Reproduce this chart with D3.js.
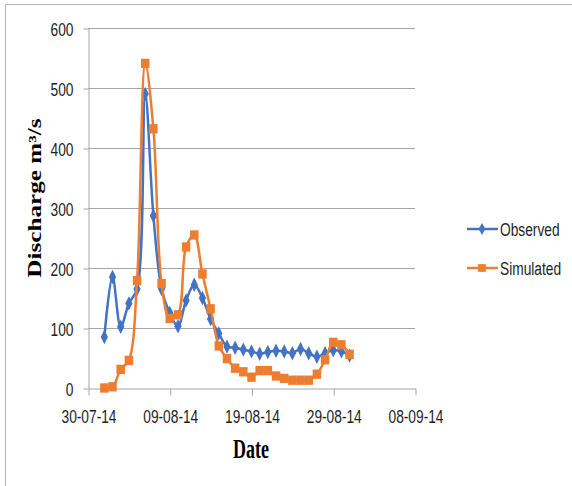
<!DOCTYPE html>
<html>
<head>
<meta charset="utf-8">
<script src="https://cdn.jsdelivr.net/npm/d3@7"></script>
<style>
  html, body { margin: 0; padding: 0; background: #fff; }
  svg { display: block; }
  .tick-label { font-family: "Liberation Sans Narrow", "Liberation Sans", Arial, sans-serif; font-size: 16px; fill: #1e1e1e; }
  .title { font-family: "Liberation Serif", "Times New Roman", serif; font-weight: bold; fill: #000; }
</style>
</head>
<body>
<script>
// Daily discharge, 1–31 Aug 2014
const dates = [
  "2014-08-01","2014-08-02","2014-08-03","2014-08-04","2014-08-05","2014-08-06",
  "2014-08-07","2014-08-08","2014-08-09","2014-08-10","2014-08-11","2014-08-12",
  "2014-08-13","2014-08-14","2014-08-15","2014-08-16","2014-08-17","2014-08-18",
  "2014-08-19","2014-08-20","2014-08-21","2014-08-22","2014-08-23","2014-08-24",
  "2014-08-25","2014-08-26","2014-08-27","2014-08-28","2014-08-29","2014-08-30",
  "2014-08-31"
];
const observed = [
  85, 185, 102, 141, 165, 490, 287, 165, 125, 103, 146, 172, 150, 115, 91, 69,
  67, 64, 61, 57, 60, 62, 61, 58, 65, 58, 52, 58, 63, 61, 54
];
const simulated = [
  0, 2, 31, 46, 179, 541, 432, 174, 116, 122, 235, 255, 190, 132, 70, 49,
  33, 27, 18, 29, 29, 20, 16, 13, 13, 13, 23, 47, 76, 72, 56
];
const xTicks = ["2014-07-30","2014-08-09","2014-08-19","2014-08-29","2014-09-08"];
const yTicks = [0, 100, 200, 300, 400, 500, 600];
const seriesNames = ["Observed", "Simulated"];

const W = 572, H = 486;
const blue = "#4472C4", orange = "#ED7D31", gridColor = "#a6a6a6";
const parse = d3.timeParse("%Y-%m-%d");
const fmt = d3.timeFormat("%d-%m-%y");
// condensed, slightly tall label text
const labelScale = "scale(0.86,1.2)";

const svg = d3.select("body").append("svg").attr("width", W).attr("height", H);

// outer frame
svg.append("path")
  .attr("d", `M5.5,${H + 2} V4.5 H${W + 2}`)
  .attr("fill", "none").attr("stroke", "#b4b4b4").attr("stroke-width", 1);

const x = d3.scaleTime()
  .domain([parse(xTicks[0]), parse(xTicks[xTicks.length - 1])])
  .range([88, 415]);
const y = d3.scaleLinear().domain([0, 600]).range([388, 28]);

// horizontal gridlines
svg.append("g").selectAll("line")
  .data(yTicks.filter(v => v > 0))
  .join("line")
  .attr("x1", 88).attr("x2", 415)
  .attr("y1", d => Math.round(y(d)) + 0.5).attr("y2", d => Math.round(y(d)) + 0.5)
  .attr("stroke", gridColor).attr("stroke-width", 1);

// y axis
const yAxis = svg.append("g")
  .attr("transform", "translate(88.5,0.5)")
  .call(d3.axisLeft(y).tickValues(yTicks).tickSize(5).tickSizeOuter(0).tickFormat(d3.format("d")));
yAxis.attr("font-size", null).attr("font-family", null);
yAxis.select(".domain").attr("stroke", gridColor);
yAxis.selectAll(".tick line").attr("stroke", gridColor);
yAxis.selectAll(".tick text")
  .attr("class", "tick-label")
  .attr("x", null).attr("dy", null)
  .attr("transform", `translate(-15,6.5) ${labelScale}`);

// x axis
const xAxis = svg.append("g")
  .attr("transform", "translate(0.5,388.5)")
  .call(d3.axisBottom(x).tickValues(xTicks.map(parse)).tickSize(7).tickSizeOuter(0).tickFormat(fmt));
xAxis.attr("font-size", null).attr("font-family", null);
xAxis.select(".domain").attr("stroke", gridColor);
xAxis.selectAll(".tick line").attr("stroke", gridColor);
xAxis.selectAll(".tick text")
  .attr("class", "tick-label")
  .attr("y", null).attr("dy", null)
  .attr("transform", `translate(0,34) ${labelScale}`);

// axis titles
svg.append("text").attr("class", "title")
  .attr("text-anchor", "middle")
  .attr("font-size", 18)
  .attr("transform", "translate(251,458) scale(1,1.48)")
  .text("Date");
svg.append("text").attr("class", "title")
  .attr("text-anchor", "middle")
  .attr("font-size", 18)
  .attr("transform", "translate(41,198) scale(1,1.4) rotate(-90)")
  .text("Discharge m³/s");

// series
const rows = dates.map((d, i) => ({ date: parse(d), obs: observed[i], sim: simulated[i] }));
const line = key => d3.line()
  .x(d => x(d.date)).y(d => y(d[key]))
  .curve(d3.curveCatmullRom.alpha(0.5));

svg.append("path").datum(rows)
  .attr("d", line("obs")).attr("fill", "none")
  .attr("stroke", blue).attr("stroke-width", 2.5).attr("stroke-linejoin", "round");
svg.append("g").selectAll("path").data(rows).join("path")
  .attr("d", d3.symbol(d3.symbolDiamond, 45))
  .attr("transform", d => `translate(${x(d.date)},${y(d.obs)}) scale(1,1.15)`)
  .attr("fill", blue);

svg.append("path").datum(rows)
  .attr("d", line("sim")).attr("fill", "none")
  .attr("stroke", orange).attr("stroke-width", 2.5).attr("stroke-linejoin", "round");
svg.append("g").selectAll("path").data(rows).join("path")
  .attr("d", d3.symbol(d3.symbolSquare, 72))
  .attr("transform", d => `translate(${x(d.date)},${y(d.sim)}) scale(1,1.1)`)
  .attr("fill", orange);

// legend
const legend = svg.append("g");
const legendItems = [
  { name: seriesNames[0], color: blue, sym: d3.symbolDiamond, size: 40, y: 229 },
  { name: seriesNames[1], color: orange, sym: d3.symbolSquare, size: 60, y: 268 }
];
legendItems.forEach(it => {
  legend.append("line")
    .attr("x1", 467).attr("x2", 498).attr("y1", it.y).attr("y2", it.y)
    .attr("stroke", it.color).attr("stroke-width", 2.5);
  legend.append("path")
    .attr("d", d3.symbol(it.sym, it.size))
    .attr("transform", `translate(482,${it.y})`)
    .attr("fill", it.color);
  legend.append("text").attr("class", "tick-label")
    .attr("transform", `translate(500,${it.y + 6.5}) ${labelScale}`)
    .text(it.name);
});
</script>
</body>
</html>
